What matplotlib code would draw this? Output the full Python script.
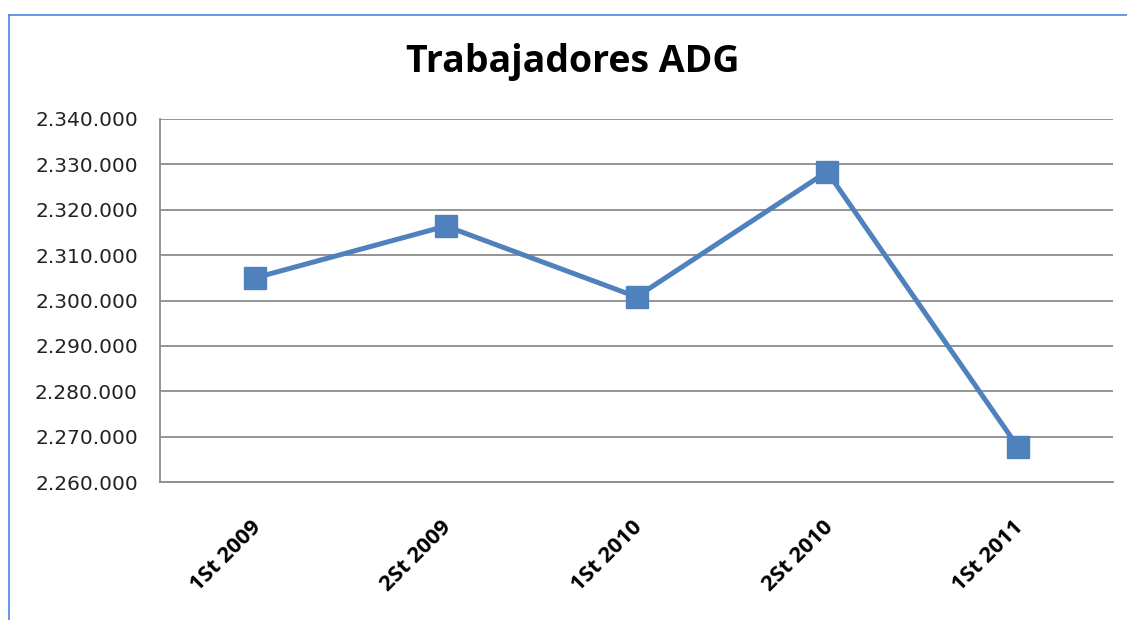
import matplotlib
matplotlib.use("Agg")
import matplotlib.pyplot as plt
from matplotlib.lines import Line2D
from matplotlib.ticker import FuncFormatter
from matplotlib.transforms import ScaledTranslation

categories = ["1St 2009", "2St 2009", "1St 2010", "2St 2010", "1St 2011"]
values = [2305000, 2316400, 2300800, 2328400, 2267800]
y_ticks = [2260000, 2270000, 2280000, 2290000, 2300000, 2310000, 2320000, 2330000, 2340000]
title = "Trabajadores ADG"

W, H = 1127, 620
fig = plt.figure(figsize=(W / 100, H / 100), dpi=100)
fig.patch.set_facecolor("white")

# outer chart border (left and top edges visible)
bc = "#4A86E0"
fig.add_artist(Line2D([9 / W, 9 / W], [0, 1 - 15 / H], transform=fig.transFigure, color=bc, lw=1.2))
fig.add_artist(Line2D([9 / W, 1], [1 - 15 / H, 1 - 15 / H], transform=fig.transFigure, color=bc, lw=1.2))

ax = fig.add_axes([160 / W, 1 - 482 / H, (1113 - 160) / W, (482 - 119) / H])
x = list(range(len(categories)))
ax.plot(x, values, color="#4F81BD", lw=3.6, marker="s", markersize=15.5,
        markerfacecolor="#4F81BD", markeredgecolor="#4F81BD", zorder=3, clip_on=False)

ax.set_xlim(-0.5, len(categories) - 0.5)
ax.set_ylim(y_ticks[0], y_ticks[-1])
ax.set_yticks(y_ticks)
ax.yaxis.set_major_formatter(FuncFormatter(lambda v, p: f"{int(v):,}".replace(",", ".")))
ax.grid(axis="y", color="#8C8C8C", lw=1.3)
ax.set_axisbelow(True)
for s in ["top", "right"]:
    ax.spines[s].set_visible(False)
for s in ["left", "bottom"]:
    ax.spines[s].set_color("#8C8C8C")
    ax.spines[s].set_linewidth(1.3)

ax.tick_params(axis="y", length=0, pad=16, labelsize=14.5, labelcolor="#222222")
ax.tick_params(axis="x", length=0, pad=25)
ax.set_xticks(x)
ax.set_xticklabels(categories, rotation=45, ha="right", rotation_mode="anchor",
                   fontsize=15.8, fontweight="bold", family="Open Sans")
off = ScaledTranslation(-5 / 100, 0, fig.dpi_scale_trans)
for lab in ax.get_xticklabels():
    lab.set_transform(lab.get_transform() + off)

fig.text(0.508, 1 - 62 / H, title, ha="center", va="center", fontsize=27,
         fontweight="bold", family="Open Sans")

fig.savefig("out.png", dpi=100, facecolor="white")
